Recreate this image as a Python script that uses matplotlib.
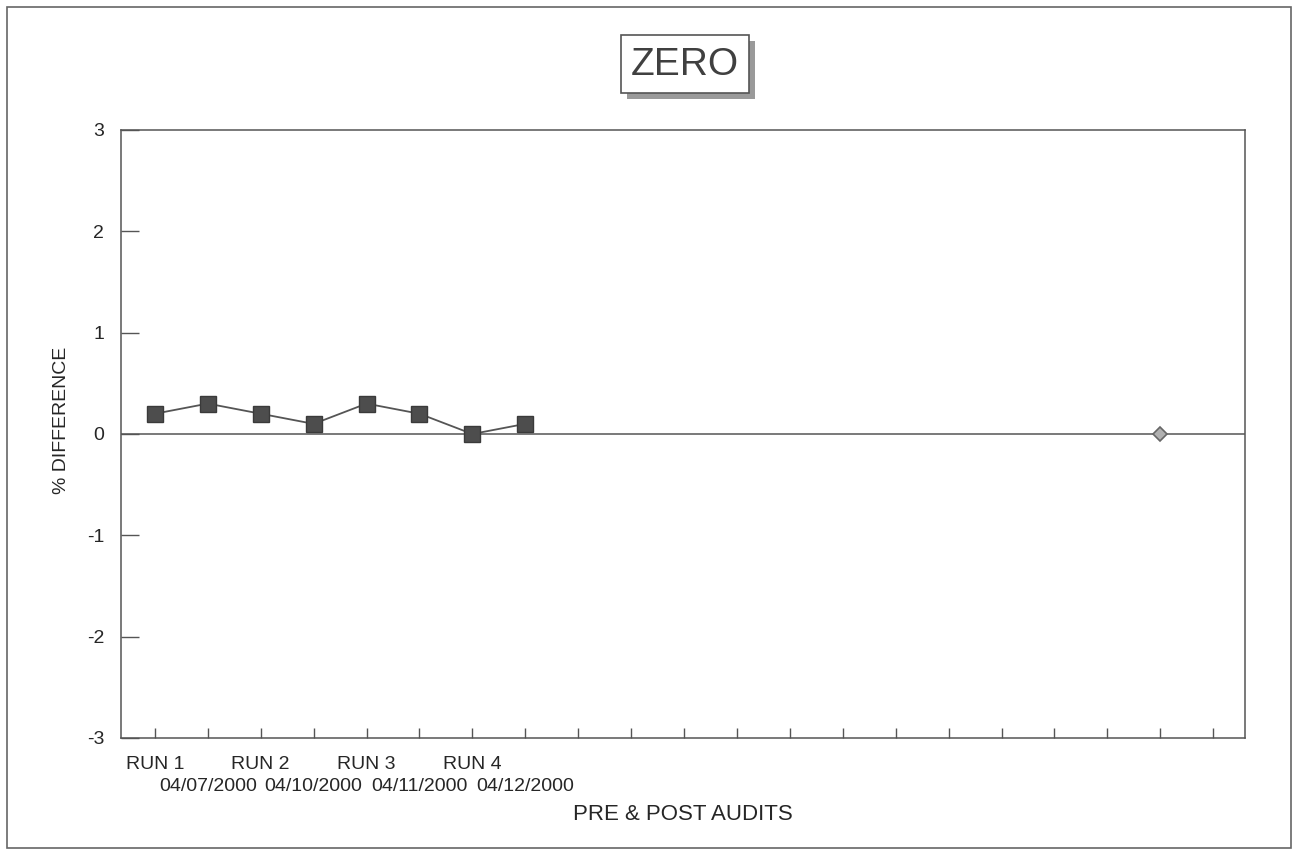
import matplotlib.pyplot as plt
import matplotlib.patches as patches

plt.rcParams['font.family'] = ['Liberation Sans', 'DejaVu Sans']

# ── Data ──────────────────────────────────────────────────────────────────────
run_labels = ["RUN 1", "RUN 2", "RUN 3", "RUN 4"]
date_labels = ["04/07/2000", "04/10/2000", "04/11/2000", "04/12/2000"]
values = [0.2, 0.3, 0.2, 0.1, 0.3, 0.2, 0.0, 0.1]
n_slots = 21                      # category slots on the x axis
marker_x = [19]                   # lone diamond point
marker_y = [0.0]
y_ticks = [-3, -2, -1, 0, 1, 2, 3]

W, H = 1298, 852
TEXT = "#262626"
LINE = "#555555"

fig = plt.figure(figsize=(W / 100, H / 100), dpi=100, facecolor="white")

def fx(px): return px / W
def fy(py): return 1 - py / H

# outer border
fig.patches.append(patches.Rectangle((fx(7), fy(848)), fx(1291) - fx(7), fy(7) - fy(848),
                                     transform=fig.transFigure, fill=False,
                                     lw=1.2, ec="#666666"))

# ── Title box with shadow ─────────────────────────────────────────────────────
fig.patches.append(patches.Rectangle((fx(627), fy(99)), fx(128), fy(0) - fy(58),
                                     transform=fig.transFigure, fc="#9a9a9a",
                                     ec="none", zorder=1))
fig.patches.append(patches.Rectangle((fx(621), fy(93)), fx(128), fy(0) - fy(58),
                                     transform=fig.transFigure, fc="white",
                                     ec="#555555", lw=1.2, zorder=2))
fig.text(fx(685), fy(65), "ZERO", ha="center", va="center",
         fontsize=28, color="#404040", zorder=3)

# ── Plot area ─────────────────────────────────────────────────────────────────
ax = fig.add_axes([fx(121), fy(738), fx(1245) - fx(121), fy(130) - fy(738)])

ax.axhline(0, color=LINE, lw=1.1, zorder=1)
ax.plot(range(len(values)), values, color=LINE, lw=1.3, marker="s",
        markersize=11, markerfacecolor="#4d4d4d", markeredgecolor="#3a3a3a",
        zorder=3)
ax.plot(marker_x, marker_y, ls="none", marker="D", markersize=7,
        markerfacecolor="#b0b0b0", markeredgecolor="#666666", mew=1.2, zorder=3)

ax.set_xlim(-0.64, 20.6)
ax.set_ylim(-3, 3)

# run labels on even slots, dates on odd slots one line lower
run_text = [""] * n_slots
for i, lab in enumerate(run_labels):
    run_text[2 * i] = lab
ax.set_xticks(range(n_slots))
ax.set_xticklabels(run_text, fontsize=14, color=TEXT)

sec = ax.secondary_xaxis("bottom")
sec.set_xticks([2 * i + 1 for i in range(len(date_labels))])
sec.set_xticklabels(date_labels, fontsize=14, color=TEXT)
sec.tick_params(axis="x", direction="in", length=0, pad=29)
sec.spines["bottom"].set_visible(False)

ax.set_yticks(y_ticks)
ax.set_yticklabels([str(v) for v in y_ticks], fontsize=14, color=TEXT)

ax.tick_params(axis="x", direction="in", length=7, width=1, color=LINE, pad=13)
ax.tick_params(axis="y", direction="in", length=13, width=1, color=LINE, pad=12)
for sp in ax.spines.values():
    sp.set_color(LINE)
    sp.set_linewidth(1.1)

fig.text(fx(62), fy(420), "% DIFFERENCE", rotation=90, ha="center", va="center",
         fontsize=14, color=TEXT)
fig.text(fx(683), fy(815), "PRE & POST AUDITS", ha="center", va="center",
         fontsize=16, color=TEXT)

plt.savefig("out.png", dpi=100, facecolor="white")
